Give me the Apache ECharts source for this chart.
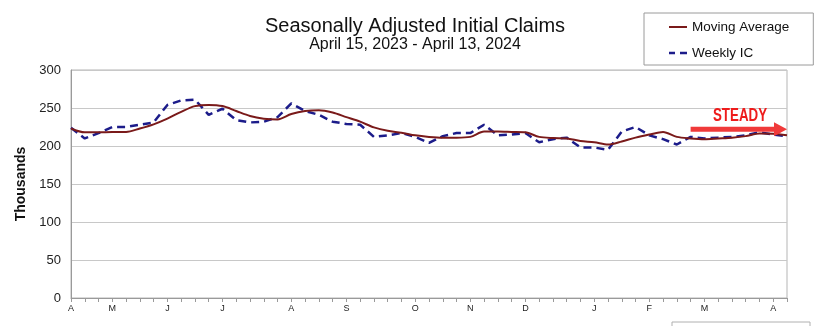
<!DOCTYPE html>
<html>
<head>
<meta charset="utf-8">
<script src="https://cdn.jsdelivr.net/npm/echarts@6/dist/echarts.min.js"></script>
<style>
  html, body { margin: 0; padding: 0; background: #fff; }
  #chart { width: 824px; height: 326px; }
</style>
</head>
<body>
<div id="chart"></div>
<script>
// Week-ending dates, April 15, 2023 through April 13, 2024
const weeks = [];
(function () {
  const d = new Date(Date.UTC(2023, 3, 15));
  for (let i = 0; i < 53; i++) {
    weeks.push(d.toISOString().slice(0, 10));
    d.setUTCDate(d.getUTCDate() + 7);
  }
})();

// Month initials shown under the first week of each month
const monthLabels = {
  0: 'A', 3: 'M', 7: 'J', 11: 'J', 16: 'A', 20: 'S', 25: 'O',
  29: 'N', 33: 'D', 38: 'J', 42: 'F', 46: 'M', 51: 'A'
};

// Seasonally adjusted initial claims, thousands
const weeklyIC = [
  224, 210, 217, 225, 225, 228, 231, 254, 260, 261,
  241, 249, 234, 231, 232, 238, 256, 246, 241, 232,
  229, 228, 212, 214, 217, 212, 204, 213, 217, 217,
  228, 214, 215, 217, 205, 209, 211, 198, 198, 195,
  219, 225, 214, 209, 202, 212, 210, 211, 212, 214,
  218, 215, 213
];

const movingAverage = [
  223, 218, 218, 218.5, 218.5, 223, 228.5, 236, 245, 252.5,
  254, 252.5, 246, 239.5, 236, 235, 242, 246, 247, 244,
  238, 232, 224.5, 220, 217.5, 214, 212, 211, 211, 212,
  219, 219, 218.5, 218, 212, 210.5, 210, 206.5, 205, 202,
  206, 211, 215, 218.5, 212, 210, 209, 210, 211, 213,
  216.5, 216, 214
];

const yTicks = [0, 50, 100, 150, 200, 250, 300];

const chart = echarts.init(document.getElementById('chart'));
const FONT = '"Liberation Sans", Arial, sans-serif';

chart.setOption({
  animation: false,
  backgroundColor: '#ffffff',
  textStyle: { fontFamily: FONT },
  title: {
    text: 'Seasonally Adjusted Initial Claims',
    subtext: 'April 15, 2023 - April 13, 2024',
    left: 410,
    textAlign: 'center',
    top: 11,
    itemGap: 1,
    textStyle: { fontFamily: FONT, fontSize: 20, fontWeight: 'normal', color: '#111' },
    subtextStyle: { fontFamily: FONT, fontSize: 16, color: '#111' }
  },
  legend: {
    orient: 'vertical',
    left: 644,
    top: 13,
    padding: [7, 24, 5, 25],
    itemGap: 12,
    itemWidth: 18,
    itemHeight: 8,
    borderColor: '#9a9a9a',
    borderWidth: 1,
    textStyle: { fontFamily: FONT, fontSize: 13.5, color: '#111' },
    data: [
      { name: 'Moving Average', icon: 'path://M0,4 L18,4 L18,6 L0,6 Z' },
      { name: 'Weekly IC', icon: 'path://M0,3.8 L6,3.8 L6,6.2 L0,6.2 Z M11,3.8 L18,3.8 L18,6.2 L11,6.2 Z' }
    ]
  },
  grid: {
    left: 71, right: 37, top: 70, bottom: 28,
    show: true, borderColor: '#b5b5b5', borderWidth: 1
  },
  xAxis: {
    type: 'category',
    data: weeks,
    boundaryGap: false,
    axisLine: { lineStyle: { color: '#9a9a9a' } },
    axisTick: { show: true, interval: 0, length: 4, lineStyle: { color: '#9a9a9a' } },
    axisLabel: {
      interval: 0,
      fontSize: 9,
      color: '#222',
      margin: 6,
      formatter: (v, i) => monthLabels[i] || ''
    },
    splitLine: { show: false }
  },
  yAxis: {
    type: 'value',
    min: 0, max: 300, interval: 50,
    name: 'Thousands',
    nameLocation: 'middle',
    nameGap: 42,
    nameTextStyle: { fontFamily: FONT, fontSize: 14, fontWeight: 'bold', color: '#111' },
    axisLine: { show: true, lineStyle: { color: '#9a9a9a' } },
    axisTick: { show: false },
    axisLabel: {
      fontSize: 13, color: '#222', margin: 10,
      formatter: v => (yTicks.indexOf(v) >= 0 ? String(v) : '')
    },
    splitLine: { lineStyle: { color: '#c8c8c8' } }
  },
  series: [
    {
      name: 'Moving Average',
      type: 'line',
      data: movingAverage,
      symbol: 'none',
      smooth: 0.3,
      z: 3,
      color: '#7a1a1a',
      lineStyle: { color: '#7a1a1a', width: 2 }
    },
    {
      name: 'Weekly IC',
      type: 'line',
      data: weeklyIC,
      symbol: 'none',
      z: 2,
      color: '#1c1c8a',
      lineStyle: { color: '#1c1c8a', width: 2.5, type: [8, 5] }
    }
  ]
});

// "STEADY" call-out with a red arrow near the latest weeks
const start = chart.convertToPixel({ gridIndex: 0 }, [45.2, 222]);
const tip = chart.convertToPixel({ gridIndex: 0 }, [52.2, 222]);
const headLen = 13;
chart.setOption({
  graphic: [
    {
      type: 'line',
      shape: { x1: start[0], y1: start[1], x2: tip[0] - headLen + 2, y2: tip[1] },
      style: { stroke: '#f03a3a', lineWidth: 5 },
      z: 10
    },
    {
      type: 'polygon',
      shape: { points: [[tip[0] - headLen, tip[1] - 7], [tip[0], tip[1]], [tip[0] - headLen, tip[1] + 7]] },
      style: { fill: '#f03a3a' },
      z: 10
    },
    {
      type: 'text',
      x: 740,
      y: start[1] - 13.5,
      scaleX: 0.74,
      style: {
        text: 'STEADY',
        fill: '#ee1c1c',
        font: 'bold 18px "Liberation Sans", Arial, sans-serif',
        align: 'center',
        verticalAlign: 'middle'
      },
      z: 10
    },
    {
      type: 'rect',
      shape: { x: 672, y: 322, width: 138, height: 10 },
      style: { fill: 'none', stroke: '#b0b0b0', lineWidth: 1 }
    }
  ]
});
</script>
</body>
</html>
